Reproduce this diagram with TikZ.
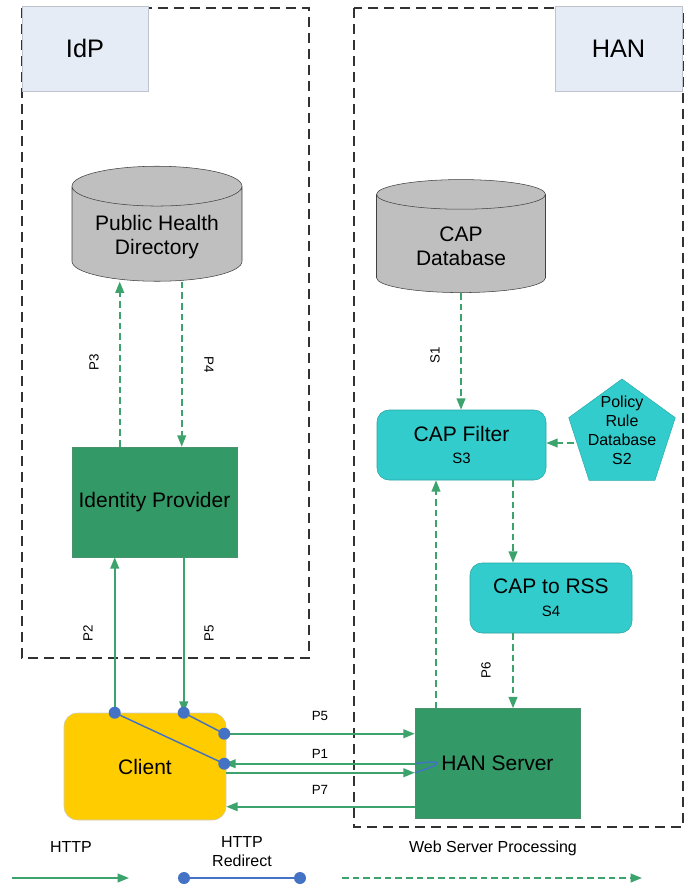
\documentclass[tikz,border=0pt]{standalone}
\usepackage{fontspec}
\setmainfont{Liberation Sans}
\usetikzlibrary{shapes.geometric,arrows.meta,calc}
\definecolor{hangreen}{RGB}{51,153,102}
\definecolor{hanarrow}{RGB}{61,163,109}
\definecolor{hanteal}{RGB}{51,204,204}
\definecolor{hanyellow}{RGB}{255,204,0}
\definecolor{hangray}{RGB}{191,191,191}
\definecolor{hantag}{RGB}{230,236,246}
\definecolor{hantagline}{RGB}{190,195,205}
\definecolor{hanblue}{RGB}{68,114,196}
\definecolor{hanzone}{RGB}{50,50,50}

\begin{document}
\begin{tikzpicture}[x=0.75pt, y=-0.75pt,
    bigfont/.style={font=\fontsize{15.75}{18}\selectfont},
    greenbox/.style={bigfont, draw=hangreen!70!gray, fill=hangreen, minimum width=123.75pt, minimum height=82.5pt},
    tealbox/.style={bigfont, draw=hanteal!80!black, fill=hanteal, rounded corners=9pt, minimum height=52.5pt, align=center},
    dbcyl/.style={bigfont, cylinder, shape border rotate=90, aspect=0.3, draw=black!75, fill=hangray, align=center},
    tagbox/.style={font=\fontsize{19}{21}\selectfont, draw=hantagline, fill=hantag, minimum height=63.75pt},
    zone/.style={draw=hanzone, line width=1.5pt, dash pattern=on 7.5pt off 4.5pt},
    flow/.style={draw=hanarrow, line width=1.4pt, -{Triangle[length=8.5pt,width=6.5pt]}},
    flowdash/.style={flow, dash pattern=on 5pt off 3pt},
    redirect/.style={draw=hanblue, line width=1.1pt},
    rdot/.style={circle, fill=hanblue, inner sep=0pt, minimum size=9pt},
    plabel/.style={font=\fontsize{10}{12}\selectfont},
    legendtxt/.style={font=\fontsize{12}{14.25}\selectfont, align=center}]
    \useasboundingbox (0,0) rectangle (689,886);

    % Zones
    \draw[zone] (22,8) rectangle (309,658);
    \draw[zone] (354,8) rectangle (683,827);
    \node[tagbox, minimum width=94.5pt] (idptag) at (85,48.5) {IdP};
    \node[tagbox, minimum width=95.25pt] (hantag) at (618.5,48.5) {HAN};

    % IdP side
    \node[dbcyl, minimum width=127.5pt, minimum height=86.25pt] (phd) at (157,237) {Public Health\\Directory};
    \node[greenbox] (idprov) at (154.5,502) {Identity Provider};

    % HAN side
    \node[dbcyl, minimum width=126.75pt, minimum height=84.75pt] (capdb) at (461,246) {CAP\\Database};
    \node[tealbox, minimum width=126.75pt] (capfilter) at (461.5,445) {CAP Filter\\[-1pt]{\fontsize{11.25}{13}\selectfont S3}};
    \node[regular polygon, regular polygon sides=5, minimum size=84pt, inner sep=-15pt,
          draw=hanteal!85!black, fill=hanteal, align=center, font=\fontsize{12}{14.25}\selectfont]
          (policy) at (622,435) {Policy\\Rule\\Database\\S2\rule[-7.5pt]{0pt}{7.5pt}};
    \node[tealbox, minimum width=121.5pt] (cap2rss) at (551,598) {CAP to RSS\\[-1pt]{\fontsize{11.25}{13}\selectfont S4}};
    \node[greenbox] (hanserver) at (497.5,763.5) {HAN Server};

    % Client
    \node[bigfont, draw=gray!40, fill=hanyellow, rounded corners=10pt, minimum width=121.5pt, minimum height=80.25pt] (client) at (145,766.5) {Client};

    % IdP arrows
    \coordinate (p3) at ($(idprov.north west)+(48,0)$);
    \coordinate (p4) at ($(idprov.north west)+(110,0)$);
    \draw[flowdash] (p3) -- (p3 |- phd.bottom);
    \draw[flowdash] (p4 |- phd.bottom) -- (p4);
    \node[plabel, rotate=90] (lp3) at (94,362) {P3};
    \node[plabel, rotate=-90] (lp4) at (209,365) {P4};

    \coordinate (p2) at ($(client.north west)+(51,0)$);
    \coordinate (p5) at ($(client.north west)+(120,0)$);
    \draw[flow] (p2) -- (p2 |- idprov.south);
    \draw[flow] (p5 |- idprov.south) -- (p5);
    \node[plabel, rotate=90] (lp2) at (88,633) {P2};
    \node[plabel, rotate=90] (lp5v) at (209,633) {P5};

    % Redirects
    \coordinate (r5) at ($(client.north east)+(-2,21)$);
    \coordinate (r1) at ($(client.north east)+(-2,51)$);
    \coordinate (b1) at ($(client.north east)+(0,60)$);
    \coordinate (p7) at ($(client.north east)+(0,94)$);
    \draw[redirect] (p2) -- (r1);
    \draw[redirect] (p5) -- (r5);
    \draw[redirect] (r1 -| hanserver.west) .. controls +(28,-4) and +(32,-10) .. (b1 -| hanserver.west);

    % Client <-> HAN
    \draw[flow] (r5) -- (r5 -| hanserver.west);
    \draw[flow] (r1 -| hanserver.west) -- (r1);
    \draw[flow] (b1) -- (b1 -| hanserver.west);
    \draw[flow] (p7 -| hanserver.west) -- (p7);
    \node[plabel] (lp5) at (320,716) {P5};
    \node[plabel] (lp1) at (320,754) {P1};
    \node[plabel] (lp7) at (320,790) {P7};
    \node[rdot] (d2) at (p2) {};
    \node[rdot] (d5) at (p5) {};
    \node[rdot] (dr5) at (r5) {};
    \node[rdot] (dr1) at (r1) {};

    % HAN arrows
    \draw[flowdash] (capdb.bottom) -- (capdb.bottom |- capfilter.north);
    \node[plabel, rotate=90] (ls1) at (435,355) {S1};
    \draw[flowdash] ([yshift=-6pt]policy.west) -- ([yshift=-6pt]policy.west -| capfilter.east);
    \coordinate (s4) at ($(capfilter.south)+(51.5,0)$);
    \draw[flowdash] (s4) -- (s4 |- cap2rss.north);
    \draw[flowdash] (s4 |- cap2rss.south) -- (s4 |- hanserver.north);
    \node[plabel, rotate=90] (lp6) at (486,670) {P6};
    \coordinate (up) at ($(hanserver.north)+(-61.5,0)$);
    \draw[flowdash] (up) -- (up |- capfilter.south);

    % Legend
    \node[legendtxt] (lhttp) at (71,847) {HTTP};
    \coordinate (h0) at (12,878);
    \coordinate (h1) at (129,878);
    \draw[flow] (h0) -- (h1);
    \node[legendtxt] (lredir) at (242,852) {HTTP\\Redirect};
    \coordinate (rd0) at (184,878);
    \coordinate (rd1) at (300,878);
    \draw[redirect] (rd0) -- (rd1);
    \node[rdot] (drd0) at (rd0) {};
    \node[rdot] (drd1) at (rd1) {};
    \node[legendtxt] (lweb) at (493,848) {Web Server Processing};
    \coordinate (w0) at (342,878);
    \coordinate (w1) at (642,878);
    \draw[flowdash] (w0) -- (w1);
\end{tikzpicture}
\end{document}
